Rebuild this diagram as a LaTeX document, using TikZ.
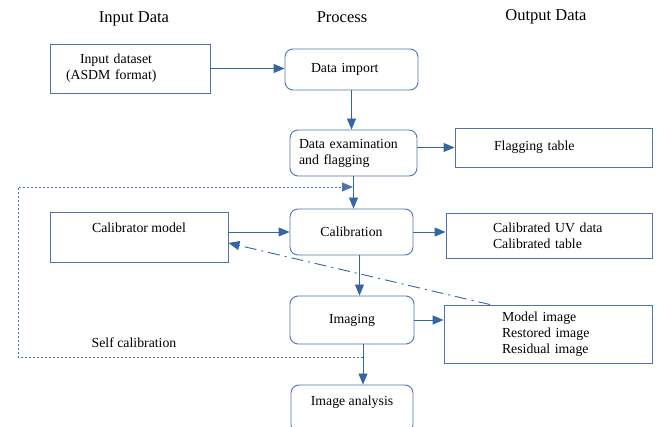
\documentclass[tikz,border=0pt]{standalone}
\usepackage{fontspec}
\setmainfont{Liberation Serif}
\usepackage{tikz}
\usetikzlibrary{calc,arrows.meta}
\definecolor{boxblue}{RGB}{79,115,177}
\definecolor{arrblue}{RGB}{52,101,164}
\tikzset{
	hdr/.style={font=\fontsize{16.5}{19}\selectfont, inner sep=0pt},
	sqbox/.style={draw=boxblue, line width=0.9pt, inner sep=0pt, font=\fontsize{13.8}{16}\selectfont},
	rbox/.style={sqbox, rounded corners=8pt},
	arr/.style={draw=arrblue, line width=0.9pt, -{Triangle[length=11pt,width=9pt]}},
	selfarr/.style={arr, draw=boxblue, dash pattern=on 2pt off 2pt},
	fbarr/.style={arr, dash pattern=on 12pt off 5pt on 2pt off 5pt}
}

\begin{document}
\begin{tikzpicture}[x=1pt,y=-1pt]
			%%%%% FRAME %%%%%
			\useasboundingbox (0,0) rectangle (657,427);
			
			\node[hdr] (hin) at (134,19) {Input Data};
			\node[hdr] (hproc) at (342,17) {Process};
			\node[hdr] (hout) at (546,17) {Output Data};
			
			%%%%% BOXES %%%%%
			\node[sqbox, minimum width=160, minimum height=49, text width=128, align=left] (input) at (130,68.5) {\hspace*{14pt}Input dataset\\(ASDM format)};
			\node[rbox, minimum width=133, minimum height=41, text width=81, align=left] (import) at (351.5,69.5) {Data import};
			
			\node[rbox, minimum width=127, minimum height=46, text width=109, align=left] (exam) at (353.5,153) {Data examination\\and flagging};
			\node[sqbox, minimum width=197, minimum height=39, text width=119, align=left] (flag) at (553.5,147.5) {Flagging table};
			
			\node[sqbox, minimum width=178, minimum height=50, text height=10pt, text depth=19pt] (calmod) at (139,237) {Calibrator model};
			\node[rbox, minimum width=123, minimum height=46] (calib) at (351.5,232) {Calibration};
			\node[sqbox, minimum width=206, minimum height=45, text width=112, align=left] (calout) at (549,235.5) {Calibrated UV data\\Calibrated table};
			
			\node[rbox, minimum width=124, minimum height=48] (imaging) at (352,320) {Imaging};
			\node[sqbox, minimum width=208, minimum height=58, text width=92, align=left] (imgout) at (548,334) {Model image\\Restored image\\Residual image};
			
			\node[rbox, minimum width=122, minimum height=48, text height=10pt, text depth=17pt] (analysis) at (352,409) {Image analysis};
			
			\node[font=\fontsize{13.8}{16}\selectfont, inner sep=0pt] (selflbl) at (134,343) {Self calibration};
			
			%%%%% ARROWS %%%%%
			\draw[arr] (input.east) -- (input.east -| import.west);
			\draw[arr] (import.south) -- (import.south |- exam.north);
			\draw[arr] (exam.east |- flag.west) -- (flag.west);
			\draw[arr] (exam.south) -- (exam.south |- calib.north);
			\draw[arr] (calmod.east |- calib.west) -- (calib.west);
			\draw[arr] (calib.east) -- (calib.east -| calout.west);
			\draw[arr] ([xshift=8pt]calib.south) -- ([xshift=8pt]calib.south |- imaging.north);
			\draw[arr] (imaging.east) -- (imaging.east -| imgout.west);
			\draw[arr] ([xshift=11pt]imaging.south) -- ([xshift=11pt]imaging.south |- analysis.north);
			
			\draw[fbarr] ([xshift=-58pt]imgout.north) -- ([yshift=-6pt]calmod.east);
			
			\coordinate (scstart) at (363,357);
			\coordinate (scend) at (353,187);
			\draw[selfarr] (scstart) -- (18,357) -- (18,187) -- (scend);
			
		\end{tikzpicture}
\end{document}
